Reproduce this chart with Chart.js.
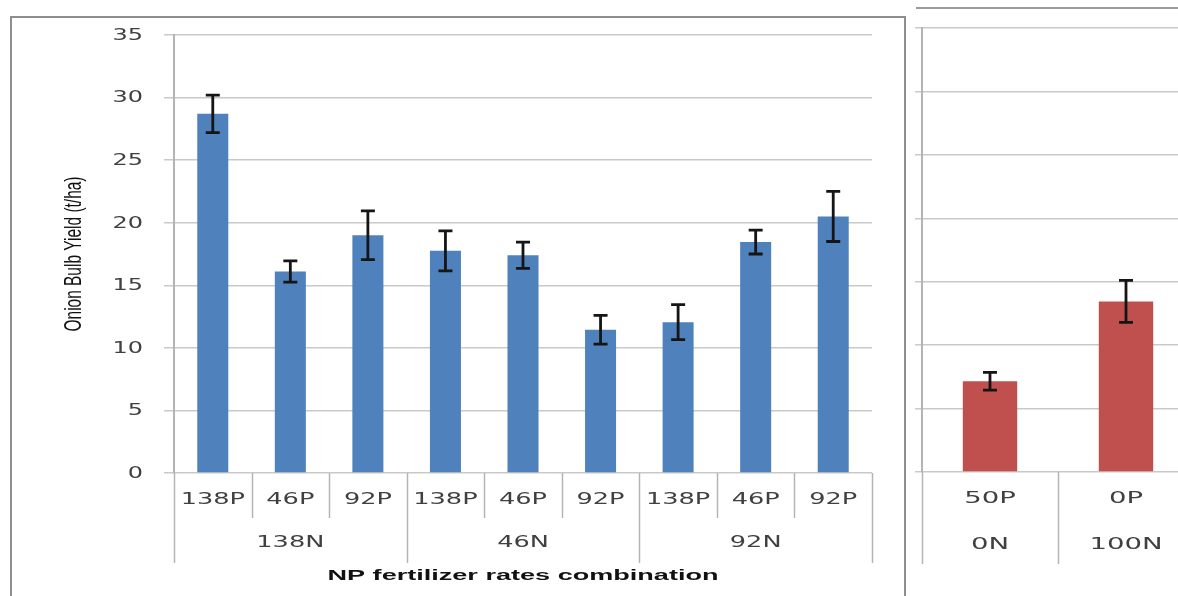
<!DOCTYPE html>
<html>
<head>
<meta charset="utf-8">
<script src="https://cdn.jsdelivr.net/npm/chart.js@4.4.1/dist/chart.umd.min.js"></script>
<style>
  html, body { margin: 0; padding: 0; background: #fff; }
  body { width: 1178px; height: 596px; overflow: hidden; position: relative; }
  .frame-main { position: absolute; left: 10px; top: 16px; width: 896px; height: 620px;
                border: 2px solid #8e8e8e; box-sizing: border-box; }
  .frame-side { position: absolute; left: 916px; top: 7px; width: 300px; height: 0;
                border-top: 2px solid #9a9a9a; }
  #mainChart { position: absolute; left: 0; top: 0; }
  #sideChart { position: absolute; left: 905px; top: 0; }
</style>
</head>
<body>
<div class="frame-main"></div>
<div class="frame-side"></div>
<canvas id="mainChart" width="905" height="596"></canvas>
<canvas id="sideChart" width="300" height="596"></canvas>
<script>
// Onion bulb yield (t/ha) by N and P fertilizer rate combination
const pLabels   = ['138P', '46P', '92P', '138P', '46P', '92P', '138P', '46P', '92P'];
const nGroups   = ['138N', '46N', '92N'];
const yieldMean = [28.7, 16.1, 19.0, 17.75, 17.4, 11.45, 12.05, 18.45, 20.5];
const yieldErr  = [1.5, 0.85, 1.95, 1.6, 1.05, 1.15, 1.4, 0.95, 2.0];

// Reference treatments
const ctrlP    = ['50P', '0P'];
const ctrlN    = ['0N', '100N'];
const ctrlMean = [7.15, 13.45];
const ctrlErr  = [0.7, 1.65];

const yMin = 0, yMax = 35, yStep = 5;
const yTitle = 'Onion Bulb Yield (t/ha)';
const xTitle = 'NP fertilizer rates combination';

const TXT = '#404040';
const STRETCH = 1.6;

function drawText(ctx, s, x, y, font, sx, align, color) {
  ctx.save();
  ctx.translate(x, y);
  ctx.scale(sx, 1);
  ctx.font = font;
  ctx.fillStyle = color || TXT;
  ctx.textAlign = align || 'center';
  ctx.textBaseline = 'middle';
  ctx.fillText(s, 0, 0);
  ctx.restore();
}

// Error bars drawn at each bar's own position via the value scale
const errorBars = {
  id: 'errorBars',
  afterDatasetsDraw(chart, args, opts) {
    const ctx = chart.ctx;
    const yScale = chart.scales.y;
    chart.data.datasets.forEach((ds, di) => {
      const meta = chart.getDatasetMeta(di);
      meta.data.forEach((bar, i) => {
        const v = ds.data[i], e = ds.errors[i];
        const yTop = yScale.getPixelForValue(v + e);
        const yBot = yScale.getPixelForValue(v - e);
        const x = bar.x, cap = 7;
        ctx.save();
        ctx.strokeStyle = '#151515';
        ctx.lineWidth = 2.8;
        ctx.beginPath();
        ctx.moveTo(x, yTop); ctx.lineTo(x, yBot);
        ctx.moveTo(x - cap, yTop); ctx.lineTo(x + cap, yTop);
        ctx.moveTo(x - cap, yBot); ctx.lineTo(x + cap, yBot);
        ctx.stroke();
        ctx.restore();
      });
    });
  }
};

// Y tick labels in the stretched axis font, plus the rotated axis title
const yTickLabels = {
  id: 'yTickLabels',
  afterDraw(chart, args, opts) {
    if (!opts.show) return;
    const ctx = chart.ctx, yScale = chart.scales.y;
    yScale.ticks.forEach(t => {
      drawText(ctx, String(t.value), opts.right, yScale.getPixelForValue(t.value) + 1,
               '15px "DejaVu Sans"', STRETCH, 'right');
    });
    ctx.save();
    ctx.font = '14px "Liberation Sans"';
    const w = ctx.measureText(yTitle).width;
    const cy = (chart.chartArea.top + chart.chartArea.bottom) / 2;
    ctx.translate(opts.titleX, cy);
    ctx.scale(1.75, 155 / w);
    ctx.rotate(-Math.PI / 2);
    ctx.fillStyle = '#111';
    ctx.textAlign = 'center';
    ctx.textBaseline = 'middle';
    ctx.fillText(yTitle, 0, 0);
    ctx.restore();
  }
};

// Two-level category axis: P rate per bar, N rate per group, with dividers
const groupedAxis = {
  id: 'groupedAxis',
  afterDraw(chart, args, opts) {
    const ctx = chart.ctx, xs = chart.scales.x, area = chart.chartArea;
    const n = chart.data.labels.length;
    const half = n > 1 ? (xs.getPixelForValue(1) - xs.getPixelForValue(0)) / 2 : area.width / 2;
    const base = area.bottom;
    ctx.save();
    ctx.strokeStyle = '#b4b4b4';
    ctx.lineWidth = 1.5;
    for (let i = 0; i <= n; i++) {
      const x = i < n ? xs.getPixelForValue(i) - half : xs.getPixelForValue(n - 1) + half;
      const isGroupEdge = i % opts.groupSize === 0;
      const len = isGroupEdge ? opts.longTick : opts.shortTick;
      ctx.beginPath();
      ctx.moveTo(Math.round(x) + 0.5, base);
      ctx.lineTo(Math.round(x) + 0.5, base + len);
      ctx.stroke();
    }
    ctx.restore();
    chart.data.labels.forEach((lab, i) => {
      drawText(ctx, lab, xs.getPixelForValue(i), base + opts.row1, '16px "DejaVu Sans"', opts.sx, 'center');
    });
    opts.groups.forEach((g, gi) => {
      const i0 = gi * opts.groupSize, i1 = i0 + opts.groupSize - 1;
      const cx = (xs.getPixelForValue(i0) + xs.getPixelForValue(i1)) / 2;
      drawText(ctx, g, cx, base + opts.row2, '16px "DejaVu Sans"', opts.sx, 'center');
    });
    if (opts.title) {
      ctx.save();
      ctx.font = 'bold 14px "Liberation Sans"';
      const w = ctx.measureText(opts.title).width;
      ctx.restore();
      drawText(ctx, opts.title, (area.left + area.right) / 2, base + opts.titleRow,
               'bold 14px "Liberation Sans"', 391 / w, 'center', '#111');
    }
  }
};

function yAxis(width, tickLen) {
  return {
    min: yMin, max: yMax,
    ticks: { stepSize: yStep, display: false },
    grid: { color: '#c9c9c9', lineWidth: 1.5, drawTicks: true, tickLength: tickLen },
    border: { color: '#b4b4b4', width: 2 },
    afterFit(scale) { scale.width = width; }
  };
}

new Chart(document.getElementById('mainChart'), {
  type: 'bar',
  data: {
    labels: pLabels,
    datasets: [{
      data: yieldMean,
      errors: yieldErr,
      backgroundColor: '#4f81bd',
      borderWidth: 0,
      barPercentage: 0.4,
      categoryPercentage: 1.0
    }]
  },
  options: {
    responsive: false,
    animation: false,
    devicePixelRatio: 1,
    layout: { padding: { left: 0, right: 33, top: 35, bottom: 123 } },
    plugins: {
      legend: { display: false },
      tooltip: { enabled: false },
      yTickLabels: { show: true, right: 143, titleX: 74 },
      groupedAxis: { groupSize: 3, groups: nGroups, shortTick: 45, longTick: 90,
                     row1: 27, row2: 70, titleRow: 103, sx: STRETCH, title: xTitle }
    },
    scales: {
      x: { display: false },
      y: yAxis(174, 10)
    }
  },
  plugins: [errorBars, yTickLabels, groupedAxis]
});

new Chart(document.getElementById('sideChart'), {
  type: 'bar',
  data: {
    labels: ctrlP,
    datasets: [{
      data: ctrlMean,
      errors: ctrlErr,
      backgroundColor: '#c0504d',
      borderWidth: 0,
      barPercentage: 0.4,
      categoryPercentage: 1.0
    }]
  },
  options: {
    responsive: false,
    animation: false,
    devicePixelRatio: 1,
    layout: { padding: { left: 0, right: 11, top: 28, bottom: 124 } },
    plugins: {
      legend: { display: false },
      tooltip: { enabled: false },
      yTickLabels: { show: false },
      groupedAxis: { groupSize: 1, groups: ctrlN, shortTick: 92, longTick: 92,
                     row1: 27, row2: 73, titleRow: 0, sx: 1.72, title: null }
    },
    scales: {
      x: { display: false },
      y: yAxis(17, 7)
    }
  },
  plugins: [errorBars, yTickLabels, groupedAxis]
});
</script>
</body>
</html>
